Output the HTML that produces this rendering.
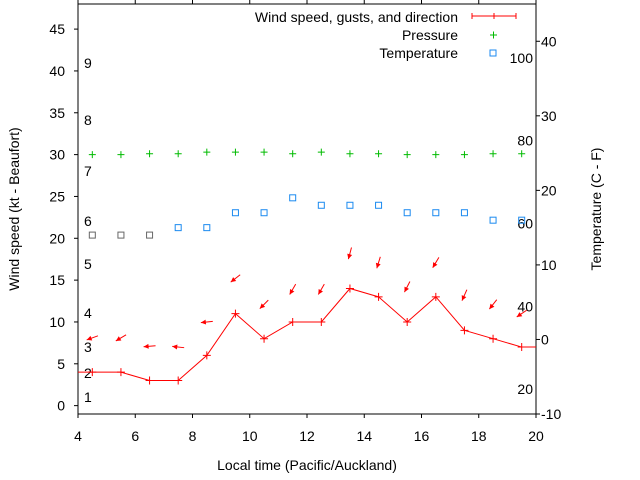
<!DOCTYPE html>
<html><head><meta charset="utf-8"><style>
body{margin:0;background:#fff}
svg{display:block;font-family:"Liberation Sans",sans-serif;font-size:14px;fill:#000}
</style></head><body>
<svg id="chart" width="640" height="480" viewBox="0 0 640 480" xmlns="http://www.w3.org/2000/svg"></svg>
<script>
const hours=[4.5,5.5,6.5,7.5,8.5,9.5,10.5,11.5,12.5,13.5,14.5,15.5,16.5,17.5,18.5,19.5];
const windKt=[4,4,3,3,6,11,8,10,10,14,13,10,13,9,8,7];
const gustKt=[8.1,8.1,7.1,7,10,15.2,12.1,13.9,13.9,18.2,17.1,14.2,17.1,13.2,12.1,11];
const windDir=[70,59,85,96,84,52,45,30,30,15,17,27,31,24,38,56];
const pressure=[30,30,30.1,30.1,30.3,30.3,30.3,30.1,30.3,30.1,30.1,30,30,30,30.1,30.1];
const tempC=[14,14,14,15,15,17,17,19,18,18,18,17,17,17,16,16];
const xTicks=[4,6,8,10,12,14,16,18,20];
const yTicks=[0,5,10,15,20,25,30,35,40,45];
const y2Ticks=[-10,0,10,20,30,40];
const beaufort=[[1,397],[2,373],[3,347],[4,313],[5,264],[6,221],[7,171],[8,120],[9,63]];
const fahr=[20,40,60,80,100];

const L=78,R=536,T=4,B=414;
const X=v=>L+(v-4)/16*(R-L);
const Y=v=>B-(v+1)/49*(B-T);
const Y2=v=>B-(v+10)/55*(B-T);
const svg=document.getElementById('chart');
const NS='http://www.w3.org/2000/svg';
function mk(tag,attrs,parent){const e=document.createElementNS(NS,tag);for(const k in attrs)e.setAttribute(k,attrs[k]);(parent||svg).appendChild(e);return e;}
function txt(x,y,s,anchor,name,extra){const e=mk('text',Object.assign({x:x,y:y,'text-anchor':anchor||'start'},extra||{}));e.textContent=s;


return e;}

// axes box
const box=mk('rect',{x:L,y:T,width:R-L,height:B-T,fill:'none',stroke:'#000','stroke-width':1});


xTicks.forEach(v=>{mk('line',{x1:X(v),x2:X(v),y1:B,y2:B+4,stroke:'#000'});mk('line',{x1:X(v),x2:X(v),y1:T,y2:T-4,stroke:'#000'});
txt(X(v),441,String(v),'middle','x-tick-label');});
yTicks.forEach(v=>{mk('line',{x1:L-4,x2:L,y1:Y(v),y2:Y(v),stroke:'#000'});
txt(65,Y(v)+5,String(v),'end','y-tick-label');});
y2Ticks.forEach(v=>{mk('line',{x1:R,x2:R+4,y1:Y2(v),y2:Y2(v),stroke:'#000'});
txt(541,Y2(v)+5,String(v),'start','y2-tick-label');});
beaufort.forEach(b=>txt(84,b[1]+5,String(b[0]),'start','beaufort-label'));
fahr.forEach(f=>{const c=(f-32)*5/9;txt(533,Y2(c)+5,String(f),'end','fahrenheit-label');});

txt(307,470,'Local time (Pacific/Auckland)','middle','x-axis-title');
txt(0,0,'Wind speed (kt - Beaufort)','middle','y-axis-title',{transform:'translate(19,209) rotate(-90)'});
txt(0,0,'Temperature (C - F)','middle','y2-axis-title',{transform:'translate(601,209) rotate(-90)'});

// wind line
let pts=[[L,Y(windKt[0])]].concat(hours.map((h,i)=>[X(h),Y(windKt[i])])).concat([[R,Y(windKt[windKt.length-1])]]);
const wl=mk('polyline',{points:pts.map(p=>p.join(',')).join(' '),fill:'none',stroke:'#f00','stroke-width':1});


hours.forEach((h,i)=>{const g=mk('path',{d:`M${X(h)-4},${Y(windKt[i])}h8M${X(h)},${Y(windKt[i])-4}v8`,stroke:'#f00'});

});
// gust arrows
hours.forEach((h,i)=>{const a=windDir[i]*Math.PI/180,cx=X(h),cy=Y(gustKt[i]);
const ux=Math.sin(a),uy=-Math.cos(a);const hx=cx-ux*6,hy=cy-uy*6,tx=cx+ux*6,ty=cy+uy*6;
const px=-uy,py=ux;
const g=mk('g',{});


mk('line',{x1:tx,y1:ty,x2:hx,y2:hy,stroke:'#f00'},g);
mk('polygon',{points:`${hx},${hy} ${hx+ux*5+px*2.5},${hy+uy*5+py*2.5} ${hx+ux*5-px*2.5},${hy+uy*5-py*2.5}`,fill:'#f00'},g);});
// pressure
hours.forEach((h,i)=>{const g=mk('path',{d:`M${X(h)-3.5},${Y(pressure[i])}h7M${X(h)},${Y(pressure[i])-3.5}v7`,stroke:'#0b0'});

});
// temperature
hours.forEach((h,i)=>{const r=mk('rect',{x:X(h)-3,y:Y2(tempC[i])-3,width:6,height:6,fill:'none',stroke:i<5&&tempC[i]<=14?'#666':'#1b8af0','stroke-width':1});

});
// legend
txt(458,22,'Wind speed, gusts, and direction','end','legend-wind');
txt(458,40,'Pressure','end','legend-pressure');
txt(458,58,'Temperature','end','legend-temperature');
mk('path',{d:'M472,16h44M472,13v6M516,13v6M494,13v6',stroke:'#f00'});
mk('path',{d:'M490,35h7M493.5,31.5v7',stroke:'#0b0'});
mk('rect',{x:490,y:50,width:6,height:6,fill:'none',stroke:'#1b8af0'});
</script>
</body></html>
